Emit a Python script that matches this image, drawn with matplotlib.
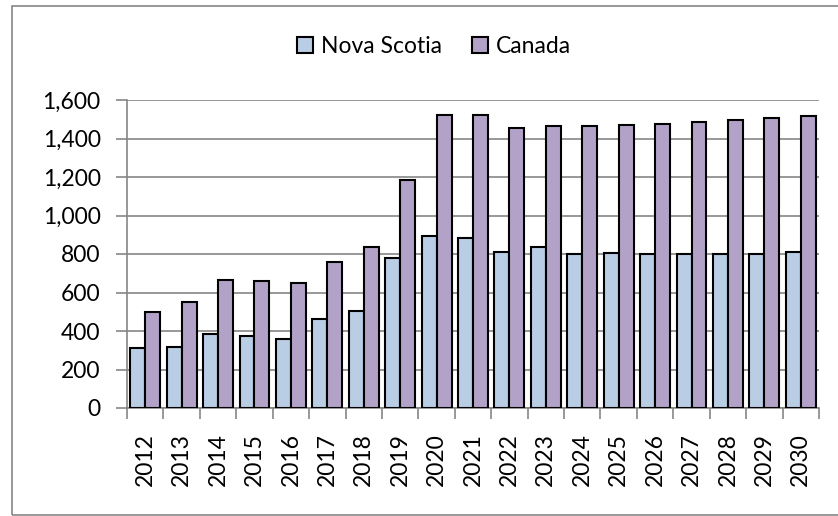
import numpy as np
import matplotlib.pyplot as plt
from matplotlib.patches import Rectangle

years = [str(y) for y in range(2012, 2031)]
nova_scotia = [310, 315, 384, 374, 360, 464, 503, 777, 896, 884, 811, 836, 798, 806, 799, 801, 801, 801, 808]
canada = [500, 550, 663, 658, 650, 761, 837, 1187, 1521, 1521, 1457, 1464, 1464, 1469, 1474, 1486, 1498, 1507, 1515]

plt.rcParams['font.family'] = ['Lato', 'DejaVu Sans']
grey = '#868686'
fs = 16.5

fig = plt.figure(figsize=(8.38, 5.16), dpi=100)
ax = fig.add_axes([127 / 838, 1 - 408 / 516, (819 - 127) / 838, 308 / 516])

# outer chart border
fig.patches.append(Rectangle((12 / 838, 1 - 515 / 516), 1.0, 509 / 516,
                             transform=fig.transFigure, fill=False,
                             edgecolor=grey, linewidth=1.2))

x = np.arange(len(years))
w = 0.41
ax.bar(x - w / 2, nova_scotia, w, color='#B9CDE5', edgecolor='black', linewidth=1.5, label='Nova Scotia', zorder=3)
ax.bar(x + w / 2, canada, w, color='#B3A2C7', edgecolor='black', linewidth=1.5, label='Canada', zorder=3)

ax.set_xlim(-0.5, len(years) - 0.5)
ax.set_ylim(0, 1600)
ax.set_yticks(range(0, 1601, 200))
ax.set_yticklabels([f'{v:,}' for v in range(0, 1601, 200)], fontsize=fs)
ax.yaxis.grid(True, color=grey, linewidth=1.2, zorder=0)

ax.set_xticks(x)
ax.set_xticklabels(years, rotation=90, fontsize=fs)
ax.set_xticks(np.arange(-0.5, len(years)), minor=True)
ax.tick_params(axis='x', which='major', length=0, pad=18)
ax.tick_params(axis='x', which='minor', length=8, color=grey, width=1.2)
ax.tick_params(axis='y', length=8, color=grey, width=1.2, pad=11)

for s in ['top', 'right']:
    ax.spines[s].set_visible(False)
for s in ['left', 'bottom']:
    ax.spines[s].set_color(grey)
    ax.spines[s].set_linewidth(1.2)

ax.legend(loc='center', bbox_to_anchor=(434 / 838, 1 - 47 / 516), bbox_transform=fig.transFigure,
          ncol=2, frameon=False, fontsize=fs, handlelength=0.7, handleheight=0.7,
          handletextpad=0.35, columnspacing=1.3)

fig.savefig('out.png', dpi=100)
